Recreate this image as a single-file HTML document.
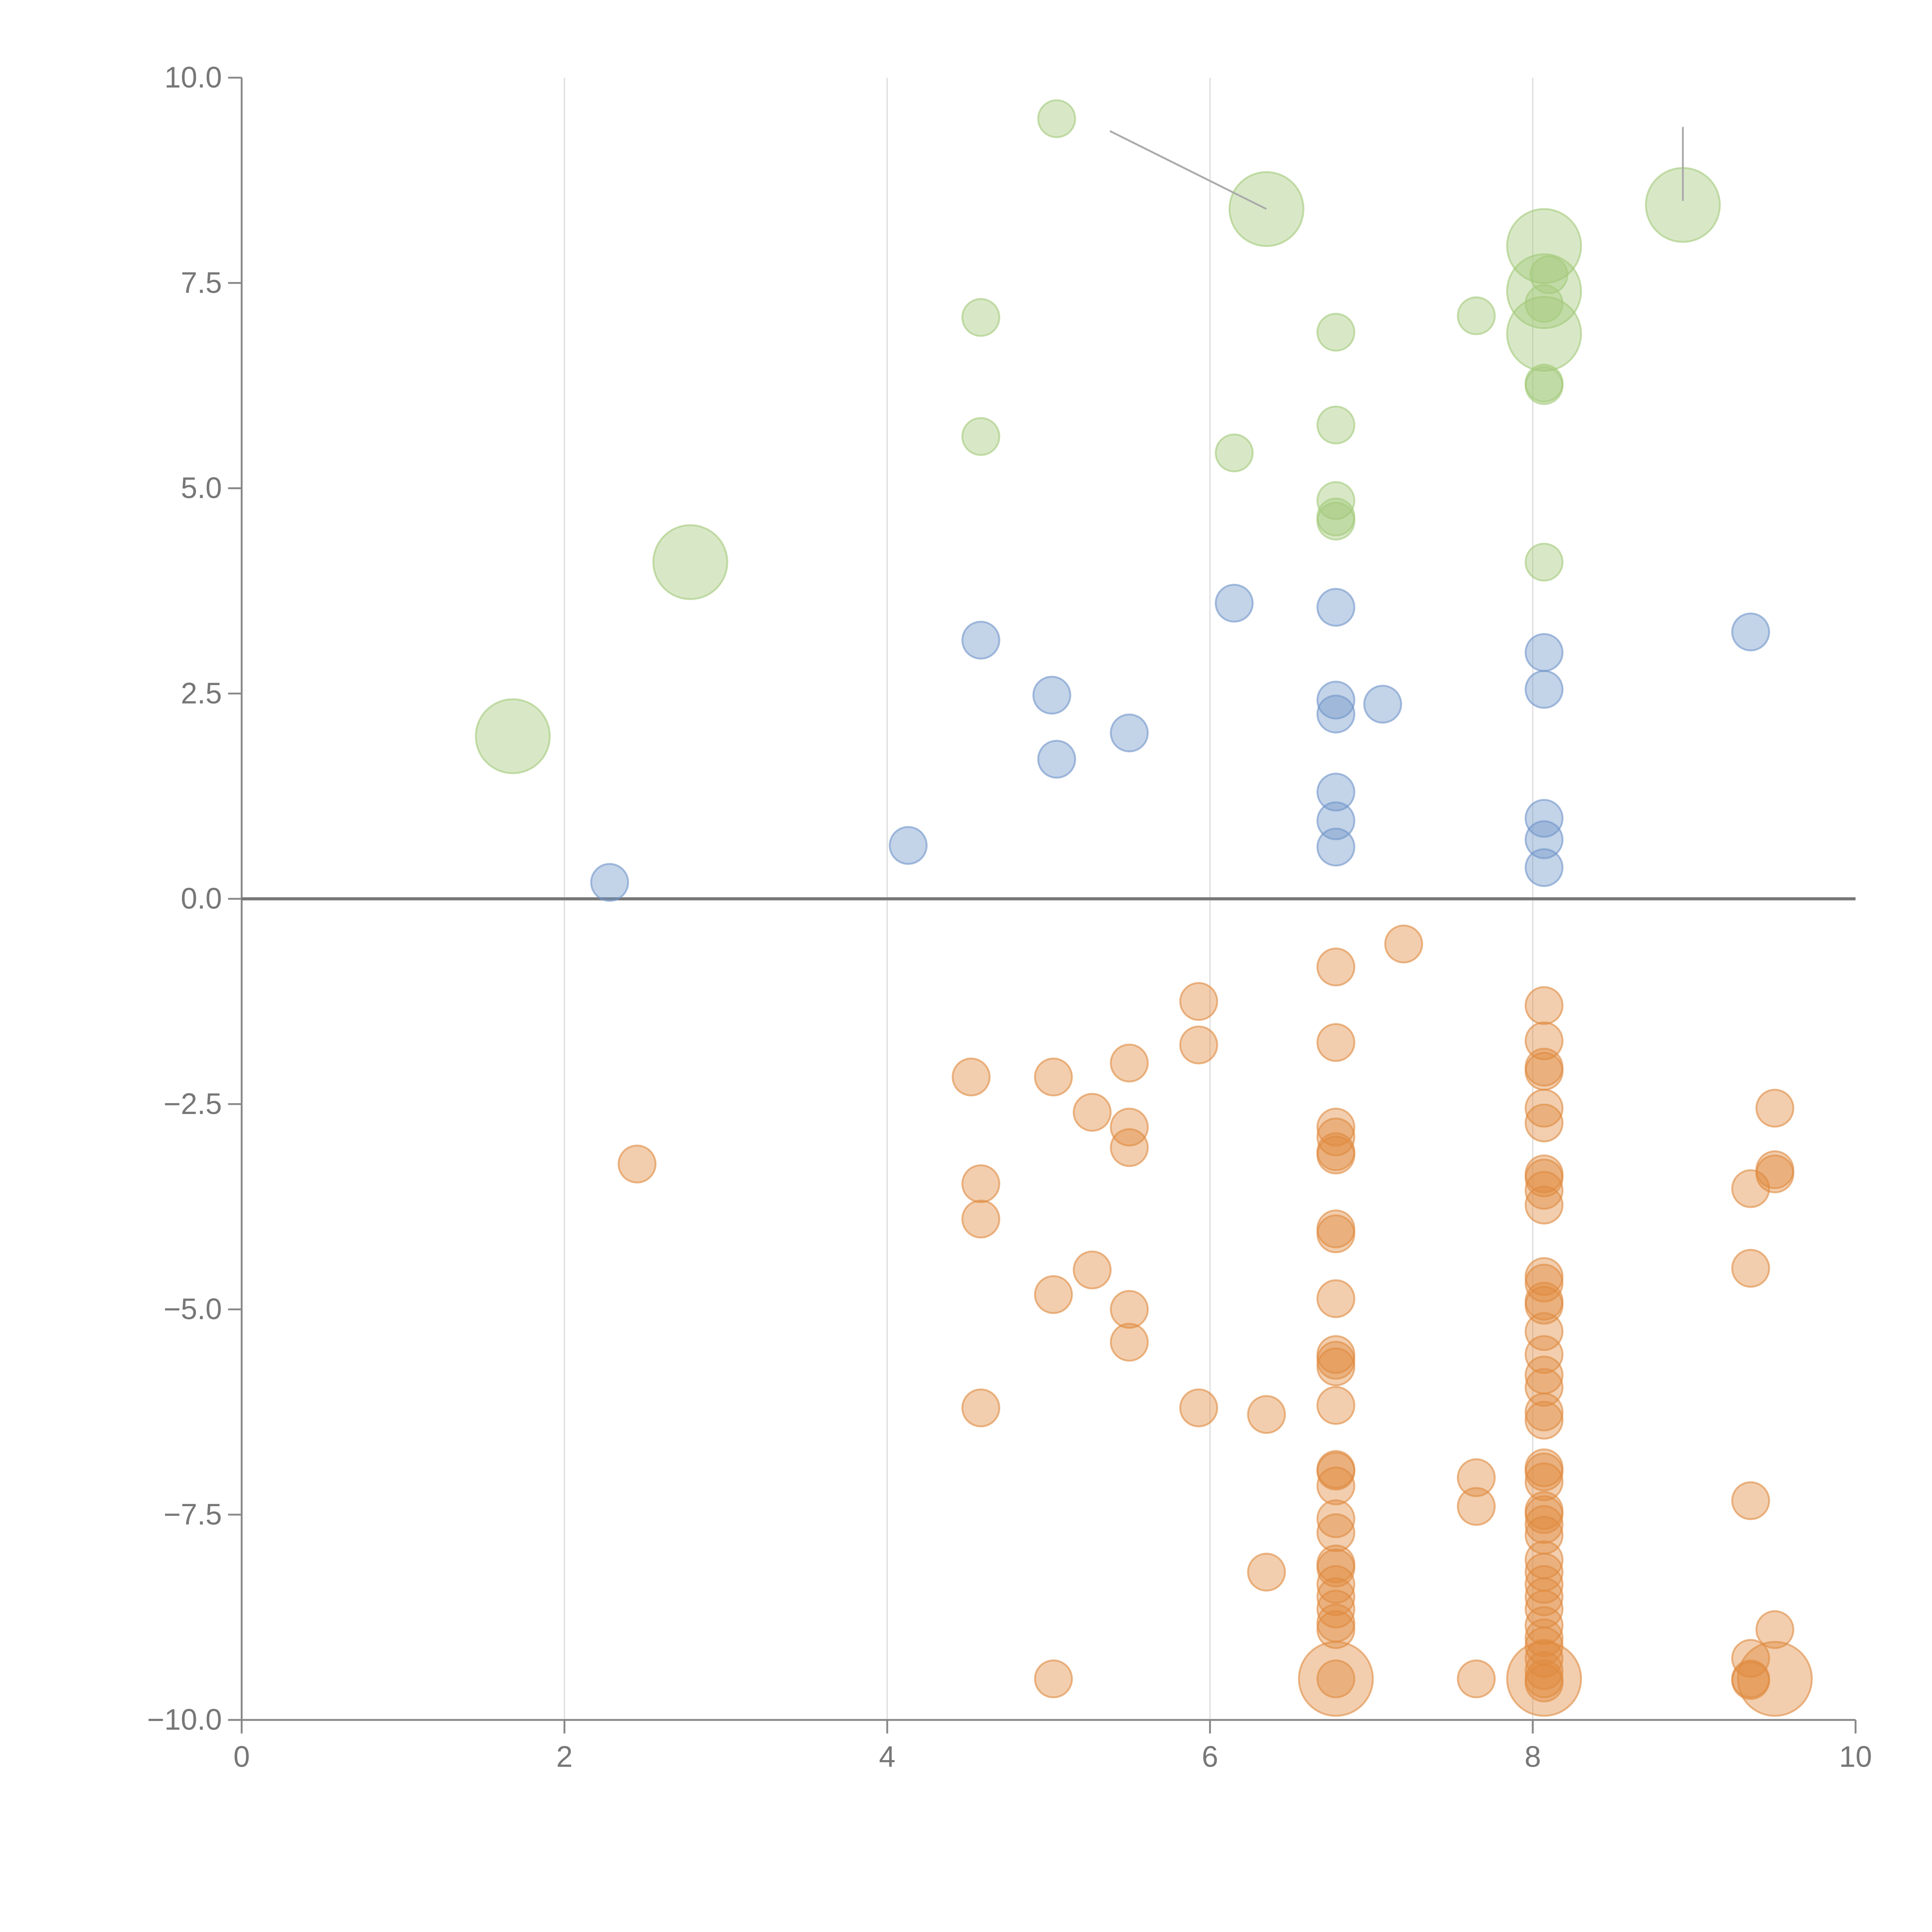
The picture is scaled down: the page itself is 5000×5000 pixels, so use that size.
<!DOCTYPE html>
<html><head><meta charset="utf-8"><style>
html,body{margin:0;padding:0;background:#fff;}
svg{display:block;}
text{font-family:"Liberation Sans",Arial,sans-serif;fill:#777;font-size:24px;}
</style></head><body>
<svg id="chart" width="5000" height="5000" viewBox="0 0 1567 1567" xmlns="http://www.w3.org/2000/svg">
<g id="grid"></g>
<g id="axes"></g>
<g id="marks"></g>
</svg>
<script>
const xTicks=[0,2,4,6,8,10];
const yTicks=[10,7.5,5,2.5,0,-2.5,-5,-7.5,-10];
const yTickLabels=["10.0","7.5","5.0","2.5","0.0","\u22122.5","\u22125.0","\u22127.5","\u221210.0"];
const greenX=[5.05,6.35,8.93,8.07,8.07,8.07,8.1,8.07,8.07,8.07,4.58,7.65,6.78,6.78,4.58,6.15,6.78,6.78,6.78,8.07,2.78,1.68];
const greenY=[9.5,8.4,8.45,7.95,7.4,6.88,7.6,7.25,6.25,6.28,7.08,7.1,6.9,5.77,5.63,5.43,4.85,4.65,4.6,4.1,4.1,1.98];
const greenS=[1,2,2,2,2,2,1,1,1,1,1,1,1,1,1,1,1,1,1,1,2,2];
const blueX=[9.35,6.15,4.58,6.78,8.07,5.02,8.07,6.78,7.07,6.78,5.5,5.05,6.78,6.78,8.07,8.07,6.78,4.13,8.07,2.28];
const blueY=[3.25,3.6,3.15,3.55,3.0,2.48,2.55,2.42,2.37,2.25,2.02,1.7,1.3,0.95,0.98,0.72,0.63,0.65,0.38,0.2];
const orangeX=[7.2,6.78,5.93,8.07,5.93,6.78,8.07,5.5,8.07,8.07,4.52,5.03,5.27,8.07,9.5,6.78,5.5,8.07,6.78,5.5,6.78,6.78,2.45,8.07,8.07,9.5,9.5,4.58,8.07,9.35,8.07,4.58,6.78,6.78,9.35,5.27,8.07,8.07,5.03,6.78,8.07,8.07,5.5,8.07,5.5,8.07,6.78,6.78,6.78,8.07,8.07,4.58,5.93,6.78,6.35,8.07,8.07,6.78,6.78,8.07,8.07,7.65,6.78,8.07,9.35,7.65,8.07,8.07,6.78,8.07,6.78,8.07,8.07,6.78,6.78,6.35,8.07,6.78,8.07,6.78,8.07,6.78,8.07,6.78,6.78,8.07,9.5,8.07,8.07,8.07,9.35,8.07,5.03,6.78,7.65,8.07,9.35,9.35,8.07,6.78,8.07,9.5];
const orangeY=[-0.55,-0.83,-1.25,-1.3,-1.78,-1.75,-1.73,-2.0,-2.05,-2.1,-2.17,-2.17,-2.6,-2.55,-2.55,-2.78,-2.78,-2.73,-2.9,-3.03,-3.08,-3.12,-3.23,-3.35,-3.4,-3.3,-3.35,-3.47,-3.55,-3.53,-3.73,-3.9,-4.02,-4.08,-4.5,-4.52,-4.6,-4.68,-4.82,-4.87,-4.9,-4.95,-5.0,-5.27,-5.4,-5.55,-5.55,-5.62,-5.7,-5.8,-5.95,-6.2,-6.2,-6.17,-6.28,-6.25,-6.35,-6.95,-6.97,-6.93,-6.98,-7.05,-7.15,-7.1,-7.33,-7.4,-7.45,-7.5,-7.55,-7.62,-7.72,-7.75,-8.05,-8.1,-8.15,-8.2,-8.2,-8.35,-8.35,-8.5,-8.5,-8.65,-8.65,-8.82,-8.9,-8.85,-8.9,-9.0,-9.1,-9.25,-9.25,-9.4,-9.5,-9.5,-9.5,-9.5,-9.5,-9.52,-9.55,-9.5,-9.5,-9.5];
const orangeS=orangeY.map((v,i)=>i>=orangeY.length-3?2:1);
const NS="http://www.w3.org/2000/svg";
const L=196,R=1505,T=63,B=1395;
const sx=v=>L+(v-0)/(10-0)*(R-L);
const sy=v=>B-(v+10)/20*(B-T);
function mk(tag,attrs,parent){const e=document.createElementNS(NS,tag);for(const k in attrs)e.setAttribute(k,attrs[k]);parent.appendChild(e);return e;}
const grid=document.getElementById('grid'),axes=document.getElementById('axes'),marks=document.getElementById('marks');
xTicks.forEach(t=>{if(t>0&&t<10){const g=mk('line',{x1:sx(t),x2:sx(t),y1:T,y2:B,stroke:'#ddd','stroke-width':1},grid);

}
const tk=mk('line',{x1:sx(t),x2:sx(t),y1:B,y2:B+11,stroke:'#888','stroke-width':1.5},axes);


const tx=mk('text',{x:sx(t),y:B+38,'text-anchor':'middle'},axes);tx.textContent=t;

});
yTicks.forEach((t,i)=>{const tk=mk('line',{x1:L-11,x2:L,y1:sy(t),y2:sy(t),stroke:'#888','stroke-width':1.5},axes);


const tx=mk('text',{x:L-16,y:sy(t)+8,'text-anchor':'end'},axes);tx.textContent=yTickLabels[i];

});
const ya=mk('line',{x1:L,x2:L,y1:T,y2:B,stroke:'#888','stroke-width':1.5},axes);


const xa=mk('line',{x1:L,x2:R,y1:B,y2:B,stroke:'#888','stroke-width':1.5},axes);


const zl=mk('line',{x1:L,x2:R,y1:sy(0),y2:sy(0),stroke:'#777','stroke-width':2.5},axes);


function series(xs,ys,ss,color,name){xs.forEach((x,i)=>{const r=ss?(ss[i]===2?30:15):15;
const c=mk('circle',{cx:sx(x),cy:sy(ys[i]),r:r,fill:color,'fill-opacity':0.42,stroke:color,'stroke-opacity':0.6,'stroke-width':1.5},marks);

});}
series(orangeX,orangeY,orangeS,'#e08a3f','orange-point');
series(blueX,blueY,null,'#6f95c9','blue-point');
series(greenX,greenY,greenS,'#a3c97a','green-point');
const a1=mk('line',{x1:sx(5.38),y1:sy(9.35),x2:sx(6.35),y2:sy(8.4),stroke:'#aaa','stroke-width':1.5},marks);


const a2=mk('line',{x1:sx(8.93),y1:sy(9.4),x2:sx(8.93),y2:sy(8.5),stroke:'#aaa','stroke-width':1.5},marks);


</script>
</body></html>
